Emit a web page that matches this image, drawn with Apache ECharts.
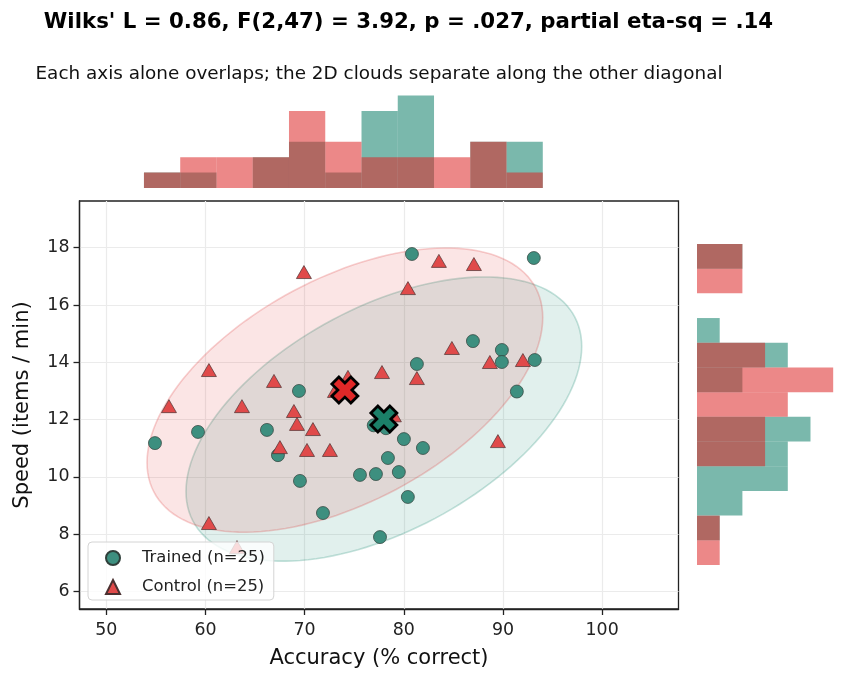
<!DOCTYPE html>
<html>
<head>
<meta charset="UTF-8">
<script src="https://cdn.jsdelivr.net/npm/echarts@6/dist/echarts.min.js"></script>
</head>
<body style="margin:0;background:#ffffff">
<div id="main" style="width:853px;height:683px"></div>
<script>
// scatter points
var trainedAcc   = [54.91, 59.25, 66.2, 67.31, 69.43, 69.53, 71.85, 75.58, 77.19, 77.6, 78.4, 79.5, 80.01,
                    80.41, 80.82, 81.32, 81.93, 86.97, 89.89, 89.89, 91.4, 93.11, 93.21, 76.97, 78.2];
var trainedSpeed = [11.18, 11.57, 11.64, 10.76, 13.0, 9.86, 8.74, 10.07, 10.1, 7.9, 10.66, 10.17, 11.32,
                    9.3, 17.78, 13.94, 11.01, 14.74, 14.43, 14.01, 12.98, 17.64, 14.08, 11.8, 11.7];
var controlAcc   = [56.32, 60.35, 60.35, 63.18, 63.68, 66.91, 67.51, 68.92, 69.23, 69.93, 70.24, 70.84, 72.55,
                    74.37, 73.06, 77.8, 80.42, 81.32, 83.54, 84.85, 87.07, 88.68, 89.49, 92.01, 79.0];
var controlSpeed = [12.47, 13.73, 8.39, 7.55, 12.47, 13.35, 11.04, 12.3, 11.85, 17.15, 10.94, 11.67, 10.94,
                    13.49, 13.0, 13.66, 16.59, 13.45, 17.54, 14.5, 17.43, 14.01, 11.25, 14.08, 12.15];

// group centres and the (shared) ellipse shape: half-extent in x, in y, correlation
var centroidTrained = [77.99, 12.02];
var centroidControl = [74.06, 13.03];
var ellipseSx = 19.95, ellipseSy = 4.96, ellipseR = 0.51;

// marginal histograms
var accBinStart = 53.8, accBinWidth = 3.656;
var accCountTrained = [1, 1, 0, 2, 3, 1, 5, 6, 0, 3, 3];
var accCountControl = [1, 2, 2, 2, 5, 3, 2, 2, 2, 3, 1];
var speedBinStart = 6.925, speedBinWidth = 0.862;
var speedCountTrained = [0, 1, 2, 4, 4, 5, 0, 2, 4, 1, 0, 0, 2];
var speedCountControl = [1, 1, 0, 0, 3, 3, 4, 6, 3, 0, 0, 2, 2];

var xTicks = [50, 60, 70, 80, 90, 100];
var yTicks = [6, 8, 10, 12, 14, 16, 18];

var FONT = 'DejaVu Sans';
var TEAL = '#3d8f7f', RED = '#e04a4a';

function pairs(a, b) {
    var out = [];
    for (var i = 0; i < a.length; i++) out.push([a[i], b[i]]);
    return out;
}
function bins(start, width, counts) {
    var out = [];
    for (var i = 0; i < counts.length; i++) {
        if (counts[i] > 0) out.push([start + i * width, start + (i + 1) * width, counts[i]]);
    }
    return out;
}

function topBar(params, api) {
    var p0 = api.coord([api.value(0), 0]);
    var p1 = api.coord([api.value(1), api.value(2)]);
    return {type: 'rect', shape: {x: p0[0], y: p1[1], width: p1[0] - p0[0], height: p0[1] - p1[1]},
            style: {fill: api.visual('color')}};
}
function sideBar(params, api) {
    var p0 = api.coord([0, api.value(0)]);
    var p1 = api.coord([api.value(2), api.value(1)]);
    return {type: 'rect', shape: {x: p0[0], y: p1[1], width: p1[0] - p0[0], height: p0[1] - p1[1]},
            style: {fill: api.visual('color')}};
}
function ellipse(fill, stroke) {
    return function (params, api) {
        var cx = api.value(0), cy = api.value(1);
        var k = Math.sqrt(1 - ellipseR * ellipseR);
        var pts = [];
        for (var i = 0; i < 144; i++) {
            var t = i / 144 * Math.PI * 2;
            pts.push(api.coord([cx + ellipseSx * Math.cos(t),
                                cy + ellipseSy * (ellipseR * Math.cos(t) + k * Math.sin(t))]));
        }
        return {type: 'polygon', shape: {points: pts}, style: {fill: fill, stroke: stroke, lineWidth: 1.6}};
    };
}

var XMARK = 'path://M2.7,0 L5,2.3 L7.3,0 L10,2.7 L7.7,5 L10,7.3 L7.3,10 L5,7.7 L2.7,10 L0,7.3 L2.3,5 L0,2.7 Z';

var chart = echarts.init(document.getElementById('main'));
chart.setOption({
    animation: false,
    backgroundColor: '#ffffff',
    textStyle: {fontFamily: FONT},
    title: [
        {text: "Wilks' L = 0.86, F(2,47) = 3.92, p = .027, partial eta-sq = .14",
         left: 408.5, top: 12, textAlign: 'center', padding: 0,
         textStyle: {fontFamily: FONT, fontSize: 21.3, fontWeight: 'bold', color: '#000'}},
        {text: 'Each axis alone overlaps; the 2D clouds separate along the other diagonal',
         left: 379, top: 65, textAlign: 'center', padding: 0,
         textStyle: {fontFamily: FONT, fontSize: 18.4, fontWeight: 'normal', color: '#111'}}
    ],
    legend: {
        data: ['Trained (n=25)', 'Control (n=25)'],
        orient: 'vertical', left: 88, top: 542,
        itemWidth: 14, itemHeight: 14, itemGap: 9,
        padding: [6, 9, 3, 17],
        backgroundColor: 'rgba(255,255,255,0.8)',
        borderColor: '#d4d4d4', borderWidth: 1, borderRadius: 4,
        textStyle: {fontFamily: FONT, fontSize: 16.4, lineHeight: 20, color: '#222', padding: [0, 0, 0, 17]}
    },
    grid: [
        {left: 79.5, top: 201, width: 599, height: 408, show: true, borderColor: '#222', borderWidth: 1.3},
        {left: 79.5, top: 91, width: 599, height: 97},
        {left: 697, top: 201, width: 143, height: 408}
    ],
    xAxis: [
        {gridIndex: 0, type: 'value', min: 47.3, max: 107.7,
         name: 'Accuracy (% correct)', nameLocation: 'middle', nameGap: 39,
         nameTextStyle: {fontFamily: FONT, fontSize: 21, color: '#111'},
         axisLine: {show: true, onZero: false, lineStyle: {color: '#222', width: 1.3}},
         axisTick: {show: true, customValues: xTicks, length: 6, lineStyle: {color: '#222', width: 1.3}},
         axisLabel: {customValues: xTicks, fontFamily: FONT, fontSize: 17.4, color: '#222', margin: 13},
         splitLine: {show: true, lineStyle: {color: '#ebebeb', width: 1.2}}},
        {gridIndex: 1, type: 'value', min: 47.3, max: 107.7, show: false},
        {gridIndex: 2, type: 'value', min: 0, max: 6.3, show: false}
    ],
    yAxis: [
        {gridIndex: 0, type: 'value', min: 5.39, max: 19.63,
         name: 'Speed (items / min)', nameLocation: 'middle', nameGap: 46,
         nameTextStyle: {fontFamily: FONT, fontSize: 21, color: '#111'},
         axisLine: {show: true, onZero: false, lineStyle: {color: '#222', width: 1.3}},
         axisTick: {show: true, customValues: yTicks, length: 6, lineStyle: {color: '#222', width: 1.3}},
         axisLabel: {customValues: yTicks, fontFamily: FONT, fontSize: 17.4, color: '#222', margin: 10},
         splitLine: {show: true, lineStyle: {color: '#ebebeb', width: 1.2}}},
        {gridIndex: 1, type: 'value', min: 0, max: 6.3, show: false},
        {gridIndex: 2, type: 'value', min: 5.39, max: 19.63, show: false}
    ],
    series: [
        {name: 'trained ellipse', type: 'custom', xAxisIndex: 0, yAxisIndex: 0, z: 1,
         renderItem: ellipse('rgba(27,140,115,0.13)', 'rgba(27,140,115,0.25)'),
         data: [centroidTrained], silent: true},
        {name: 'control ellipse', type: 'custom', xAxisIndex: 0, yAxisIndex: 0, z: 1,
         renderItem: ellipse('rgba(220,40,40,0.12)', 'rgba(220,40,40,0.22)'),
         data: [centroidControl], silent: true},
        {name: 'Trained (n=25)', type: 'scatter', xAxisIndex: 0, yAxisIndex: 0, z: 3,
         symbol: 'circle', symbolSize: 13,
         itemStyle: {color: TEAL, borderColor: '#2f3f3a', borderWidth: 0.7, opacity: 1},
         data: pairs(trainedAcc, trainedSpeed)},
        {name: 'Control (n=25)', type: 'scatter', xAxisIndex: 0, yAxisIndex: 0, z: 3,
         symbol: 'triangle', symbolSize: [15, 13],
         itemStyle: {color: RED, borderColor: '#4a3030', borderWidth: 0.7, opacity: 1},
         data: pairs(controlAcc, controlSpeed)},
        {name: 'control centroid', type: 'scatter', xAxisIndex: 0, yAxisIndex: 0, z: 5,
         symbol: XMARK, symbolSize: 26,
         itemStyle: {color: '#e02828', borderColor: '#000', borderWidth: 2.8, opacity: 1},
         data: [centroidControl]},
        {name: 'trained centroid', type: 'scatter', xAxisIndex: 0, yAxisIndex: 0, z: 5,
         symbol: XMARK, symbolSize: 26,
         itemStyle: {color: '#1b7f68', borderColor: '#000', borderWidth: 2.8, opacity: 1},
         data: [centroidTrained]},
        {name: 'acc hist trained', type: 'custom', xAxisIndex: 1, yAxisIndex: 1,
         itemStyle: {color: 'rgba(33,137,117,0.6)'}, renderItem: topBar,
         data: bins(accBinStart, accBinWidth, accCountTrained)},
        {name: 'acc hist control', type: 'custom', xAxisIndex: 1, yAxisIndex: 1,
         itemStyle: {color: 'rgba(220,39,39,0.55)'}, renderItem: topBar,
         data: bins(accBinStart, accBinWidth, accCountControl)},
        {name: 'speed hist trained', type: 'custom', xAxisIndex: 2, yAxisIndex: 2,
         itemStyle: {color: 'rgba(33,137,117,0.6)'}, renderItem: sideBar,
         data: bins(speedBinStart, speedBinWidth, speedCountTrained)},
        {name: 'speed hist control', type: 'custom', xAxisIndex: 2, yAxisIndex: 2,
         itemStyle: {color: 'rgba(220,39,39,0.55)'}, renderItem: sideBar,
         data: bins(speedBinStart, speedBinWidth, speedCountControl)}
    ]
});
</script>
</body>
</html>
